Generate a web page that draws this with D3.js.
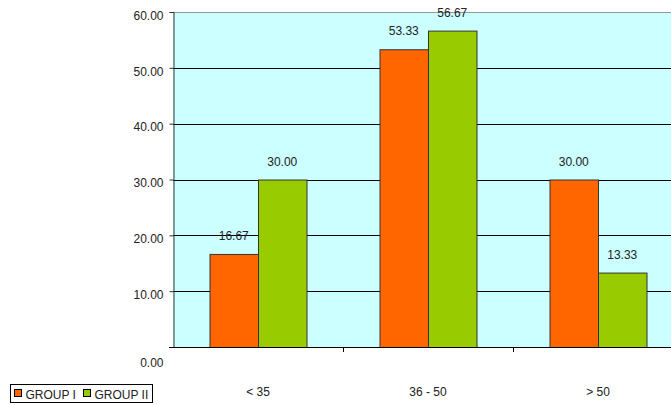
<!DOCTYPE html>
<html lang="en">
<head>
  <meta charset="UTF-8">
  <script src="https://d3js.org/d3.v7.min.js"></script>
  <title>groups</title>
  <style>
    body { margin: 0; background: #fff; }
    text { font-family: Arial, "Liberation Sans", sans-serif; }
  </style>
</head>
<body>
<script>
  // data
  let categories = ['< 35', '36 - 50', '> 50']
  let groups = ['GROUP I', 'GROUP II']
  let group1 = [16.67, 53.33, 30.00]
  let group2 = [30.00, 56.67, 13.33]
  let yTicks = [0, 10, 20, 30, 40, 50, 60]
  let colors = ['#ff6600', '#99cc00']

  let width = 671
  let height = 405

  let svg = d3.select('body')
    .append('svg')
    .attr('width', width)
    .attr('height', height)

  // plot area runs past the right edge of the picture
  let x = d3.scaleBand()
    .domain(categories)
    .range([173, 683])

  let xInner = d3.scaleBand()
    .domain(groups)
    .range([x.bandwidth() / 2 - 48.5, x.bandwidth() / 2 + 48.5])

  let y = d3.scaleLinear()
    .domain([0, 60])
    .range([347, 12])

  svg.append('rect')
    .attr('x', 173)
    .attr('y', y(60))
    .attr('width', 683 - 173)
    .attr('height', y(0) - y(60))
    .attr('fill', '#ccffff')

  // gridlines
  svg.selectAll('.grid')
    .data(yTicks.filter(d => d > 0 && d < 60))
    .enter()
    .append('line')
    .attr('x1', 173)
    .attr('x2', 683)
    .attr('y1', d => Math.round(y(d)) + 0.5)
    .attr('y2', d => Math.round(y(d)) + 0.5)
    .attr('stroke', '#000')
    .attr('stroke-width', 1)

  svg.append('line')
    .attr('x1', 173).attr('x2', 683)
    .attr('y1', Math.round(y(60)) + 0.5).attr('y2', Math.round(y(60)) + 0.5)
    .attr('stroke', '#999')

  let rows = categories.map((c, i) => ({ cat: c, vals: [group1[i], group2[i]] }))

  let g = svg.selectAll('.cat')
    .data(rows)
    .enter()
    .append('g')
    .attr('transform', d => `translate(${x(d.cat)},0)`)

  g.selectAll('rect')
    .data(d => d.vals.map((v, j) => ({ v: v, g: groups[j], j: j })))
    .enter()
    .append('rect')
    .attr('x', d => xInner(d.g) + 0.5)
    .attr('y', d => y(d.v) + 0.5)
    .attr('width', xInner.bandwidth())
    .attr('height', d => y(0) - y(d.v))
    .attr('fill', d => colors[d.j])
    .attr('stroke', '#333')
    .attr('stroke-width', 1)

  g.selectAll('.lbl')
    .data(d => d.vals.map((v, j) => ({ v: v, g: groups[j] })))
    .enter()
    .append('text')
    .attr('x', d => xInner(d.g) + xInner.bandwidth() / 2)
    .attr('y', d => y(d.v) - 14)
    .attr('text-anchor', 'middle')
    .attr('font-size', 12)
    .attr('fill', '#222')
    .text(d => d.v.toFixed(2))

  // y axis
  let yAxis = d3.axisLeft(y)
    .tickValues(yTicks)
    .tickFormat(d => d.toFixed(2))
    .tickSize(4)
    .tickPadding(6)

  let ya = svg.append('g')
    .attr('transform', 'translate(173.5,0)')
    .call(yAxis)
  ya.select('.domain').attr('stroke', '#333')
  ya.selectAll('line').attr('stroke', '#333')
  ya.selectAll('text')
    .attr('font-size', 12)
    .attr('fill', '#222')
    .attr('font-family', 'Arial, "Liberation Sans", sans-serif')
    .attr('dy', '0.6em')
  ya.select('.tick:first-of-type text').attr('dy', '1.6em')

  // x axis
  svg.append('line')
    .attr('x1', 169).attr('x2', 683)
    .attr('y1', 347.5).attr('y2', 347.5)
    .attr('stroke', '#000')

  svg.selectAll('.xtick')
    .data(categories.slice(1))
    .enter()
    .append('line')
    .attr('x1', d => Math.round(x(d)) + 0.5)
    .attr('x2', d => Math.round(x(d)) + 0.5)
    .attr('y1', 347)
    .attr('y2', 352)
    .attr('stroke', '#000')

  svg.selectAll('.xlbl')
    .data(categories)
    .enter()
    .append('text')
    .attr('x', d => x(d) + x.bandwidth() / 2)
    .attr('y', 396)
    .attr('text-anchor', 'middle')
    .attr('font-size', 12)
    .attr('fill', '#222')
    .text(d => d)

  // legend
  let lg = svg.append('g').attr('transform', 'translate(10.5,384.5)')
  lg.append('rect')
    .attr('width', 142)
    .attr('height', 18)
    .attr('fill', '#fff')
    .attr('stroke', '#000')

  let items = lg.selectAll('.item')
    .data(groups)
    .enter()
    .append('g')
    .attr('transform', (d, i) => `translate(${i === 0 ? 4 : 73},0)`)
  items.append('rect')
    .attr('y', 5)
    .attr('width', 7)
    .attr('height', 7)
    .attr('fill', (d, i) => colors[i])
    .attr('stroke', '#000')
  items.append('text')
    .attr('x', 11)
    .attr('y', 14)
    .attr('font-size', 12)
    .attr('fill', '#222')
    .text(d => d)
</script>
</body>
</html>
